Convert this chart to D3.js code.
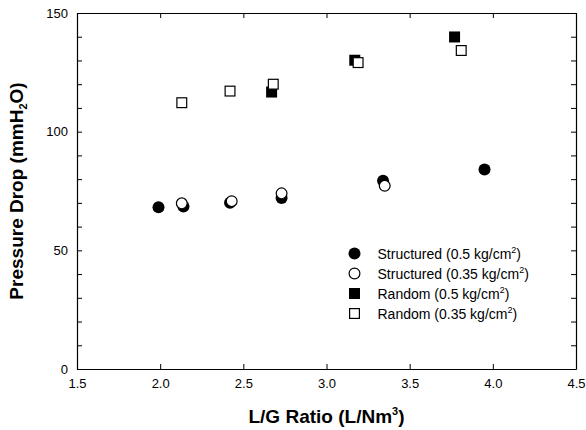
<!DOCTYPE html>
<html>
<head>
<meta charset="utf-8">
<script src="https://cdn.jsdelivr.net/npm/d3@7"></script>
<style>
  html, body { margin: 0; padding: 0; background: #fff; }
  svg { display: block; font-family: "Liberation Sans", Arial, sans-serif; }
</style>
</head>
<body>
<svg id="chart" width="586" height="430"></svg>
<script>
// ---- data ----
const seriesNames = [
  "Structured (0.5 kg/cm²)",
  "Structured (0.35 kg/cm²)",
  "Random (0.5 kg/cm²)",
  "Random (0.35 kg/cm²)"
];
const structured05X = [1.99, 2.14, 2.42, 2.73, 3.34, 3.95];
const structured05Y = [68.2, 68.5, 70.0, 72.1, 79.3, 84.1];
const structured035X = [2.13, 2.43, 2.73, 3.35];
const structured035Y = [69.8, 70.7, 74.0, 77.2];
const random05X = [2.67, 3.17, 3.77];
const random05Y = [116.7, 130.1, 139.9];
const random035X = [2.13, 2.42, 2.68, 3.19, 3.81];
const random035Y = [112.2, 117.1, 120.0, 129.1, 134.2];
const xTicks = [1.5, 2.0, 2.5, 3.0, 3.5, 4.0, 4.5];
const yTicks = [0, 50, 100, 150];
const yMinorTicks = [10, 20, 30, 40, 60, 70, 80, 90, 110, 120, 130, 140];

// ---- layout ----
const W = 586, H = 430;
const m = { left: 77, top: 13, right: 10, bottom: 61 };
const svg = d3.select("#chart");
const x = d3.scaleLinear().domain([1.5, 4.5]).range([m.left, W - m.right]);
const y = d3.scaleLinear().domain([0, 150]).range([H - m.bottom, m.top]);
const tickLen = 5;

const series = [
  { name: seriesNames[0], xs: structured05X, ys: structured05Y, shape: "circle", filled: true },
  { name: seriesNames[1], xs: structured035X, ys: structured035Y, shape: "circle", filled: false },
  { name: seriesNames[2], xs: random05X, ys: random05Y, shape: "square", filled: true },
  { name: seriesNames[3], xs: random035X, ys: random035Y, shape: "square", filled: false }
];

// ---- axes ----
const fmt = d3.format(".1f");
const gBottom = svg.append("g").attr("transform", `translate(0,${y(0)})`)
  .call(d3.axisBottom(x).tickValues(xTicks).tickFormat(fmt).tickSizeInner(-tickLen).tickSizeOuter(0).tickPadding(10));
const gTop = svg.append("g").attr("transform", `translate(0,${y(150)})`)
  .call(d3.axisTop(x).tickValues(xTicks).tickFormat("").tickSizeInner(-tickLen).tickSizeOuter(0));
const gLeft = svg.append("g").attr("transform", `translate(${x(1.5)},0)`)
  .call(d3.axisLeft(y).tickValues(yTicks).tickFormat(d3.format("d")).tickSizeInner(-tickLen).tickSizeOuter(0).tickPadding(9));
const gLeftMinor = svg.append("g").attr("transform", `translate(${x(1.5)},0)`)
  .call(d3.axisLeft(y).tickValues(yMinorTicks).tickFormat("").tickSizeInner(-tickLen).tickSizeOuter(0));
const gRight = svg.append("g").attr("transform", `translate(${x(4.5)},0)`)
  .call(d3.axisRight(y).tickValues(yTicks.concat(yMinorTicks)).tickFormat("").tickSizeInner(-tickLen).tickSizeOuter(0));

[gBottom, gTop, gLeft, gLeftMinor, gRight].forEach(g => {
  g.selectAll(".domain").attr("stroke", "#000").attr("stroke-width", 1.2);
  g.selectAll(".tick line").attr("stroke", "#000").attr("stroke-width", 1);
  g.selectAll(".tick text").attr("fill", "#000")
    .style("font-family", '"Liberation Sans", Arial, sans-serif').style("font-size", "13px");
});
gLeftMinor.select(".domain").remove();

// ---- axis titles ----
const xt = svg.append("text")
  .attr("x", (x(1.5) + x(4.5)) / 2).attr("y", 423)
  .attr("text-anchor", "middle")
  .style("font-size", "19px").style("font-weight", "bold");
xt.append("tspan").text("L/G Ratio (L/Nm");
xt.append("tspan").text("3").style("font-size", "11px").attr("dy", -8);
xt.append("tspan").text(")").attr("dy", 8);

const yt = svg.append("text")
  .attr("transform", `translate(23,${(y(0) + y(150)) / 2}) rotate(-90)`)
  .attr("text-anchor", "middle")
  .style("font-size", "19px").style("font-weight", "bold");
yt.append("tspan").text("Pressure Drop (mmH");
yt.append("tspan").text("2").style("font-size", "11px").attr("dy", 4);
yt.append("tspan").text("O)").attr("dy", -4);

// ---- marks ----
const r = 6, sq = 11;
function drawMarker(g, s, cx, cy) {
  if (s.shape === "circle") {
    g.append("circle").attr("cx", cx).attr("cy", cy).attr("r", s.filled ? r : r - 0.6)
      .attr("fill", s.filled ? "#000" : "#fff").attr("stroke", "#000").attr("stroke-width", s.filled ? 0 : 1.2);
  } else {
    const a = s.filled ? sq : sq - 1.2;
    g.append("rect").attr("x", cx - a / 2).attr("y", cy - a / 2).attr("width", a).attr("height", a)
      .attr("fill", s.filled ? "#000" : "#fff").attr("stroke", "#000").attr("stroke-width", s.filled ? 0 : 1.2);
  }
}
const gMarks = svg.append("g");
series.forEach(s => {
  s.xs.forEach((xv, i) => drawMarker(gMarks, s, x(xv), y(s.ys[i])));
});

// ---- legend ----
const lg = svg.append("g");
series.forEach((s, i) => {
  const cy = 253.5 + i * 20;
  drawMarker(lg, s, 354.5, cy);
  const t = lg.append("text").attr("x", 377.5).attr("y", cy + 5).style("font-size", "14px");
  const base = s.name.replace("²)", "");
  t.append("tspan").text(base);
  t.append("tspan").text("2").style("font-size", "9px").attr("dy", -6);
  t.append("tspan").text(")").attr("dy", 6);
});
</script>
</body>
</html>
